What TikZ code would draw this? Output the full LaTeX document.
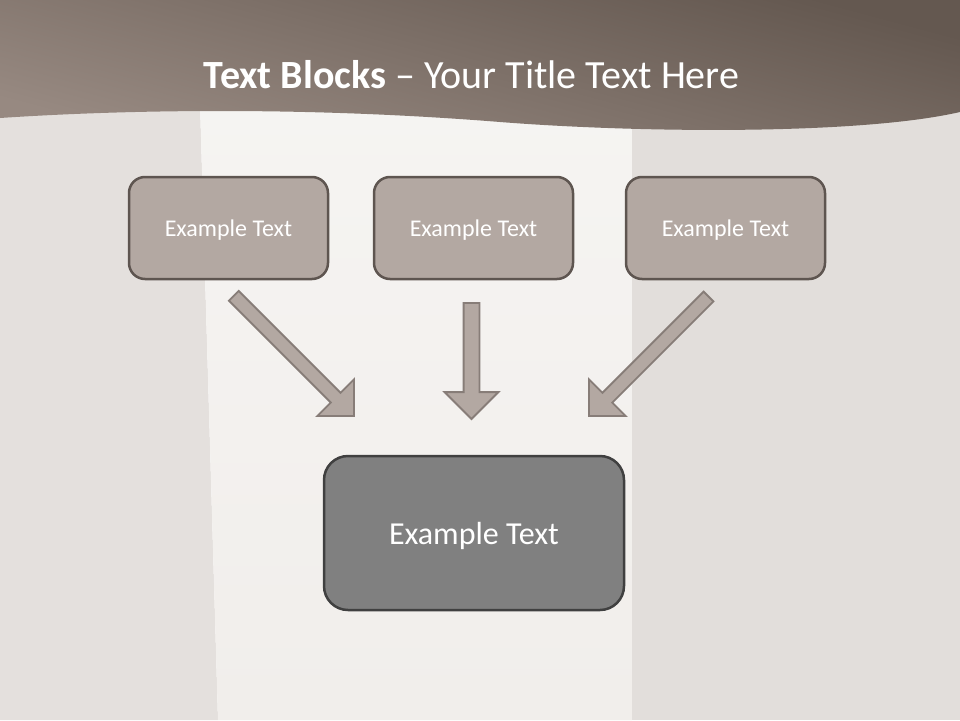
\documentclass[tikz,border=0pt]{standalone}
\usepackage{fontspec}
\setmainfont{Carlito}
\usetikzlibrary{shapes.arrows}

\definecolor{hdrtop}{HTML}{645850}
\definecolor{hdrbot}{HTML}{978981}
\definecolor{leftpanel}{HTML}{E4E0DD}
\definecolor{midtop}{HTML}{F6F5F3}
\definecolor{midbot}{HTML}{F1EEEB}
\definecolor{rightpanel}{HTML}{E2DEDB}
\definecolor{boxfill}{HTML}{B3A8A2}
\definecolor{boxline}{HTML}{5E5550}
\definecolor{mainfill}{HTML}{808080}
\definecolor{mainline}{HTML}{404040}
\definecolor{arrowfill}{HTML}{B3A8A2}
\definecolor{arrowline}{HTML}{877D78}

\begin{document}
\begin{tikzpicture}[x=1pt, y=-1pt,
    block/.style={draw=boxline, line width=2.5pt, rounded corners=16pt, fill=boxfill, minimum width=199pt, minimum height=102pt, text=white, font=\fontsize{24}{28}\selectfont, text depth=0pt},
    mainblock/.style={block, draw=mainline, fill=mainfill, rounded corners=24pt, minimum width=300pt, minimum height=154pt, font=\fontsize{32}{38}\selectfont},
    blockarrow/.style={single arrow, draw=arrowline, line width=1.8pt, fill=arrowfill, inner sep=0pt, inner ysep=6pt, outer sep=0pt, single arrow head extend=19pt, single arrow tip angle=90, single arrow head indent=0pt, minimum width=50pt, anchor=tip}]
        \useasboundingbox (0,0) rectangle (960,720);

        % background panels
        \fill[leftpanel] (0,0) -- (197,0) -- (218,720) -- (0,720) -- cycle;
        \shade[top color=midtop, bottom color=midbot] (197,0) -- (632,0) -- (632,720) -- (218,720) -- cycle;
        \fill[rightpanel] (632,0) rectangle (960,720);

        % header band
        \shade[top color=hdrtop, bottom color=hdrbot, shading angle=-15] (0,0) -- (960,0) -- (960,112) .. controls (860,135) and (640,133) .. (500,122) .. controls (300,106) and (120,110) .. (0,118) -- cycle;
        \node[text=white, font=\fontsize{40}{48}\selectfont, anchor=base, inner sep=0pt] (title) at (471.5,88) {\textbf{Text Blocks} – Your Title Text Here};

        \node[block] (exL) at (228.5,228) {Example Text};
        \node[block] (exM) at (473.5,228) {Example Text};
        \node[block] (exR) at (725.5,228) {Example Text};

        \node[mainblock] (result) at (474,533) {Example Text};

        \node[blockarrow, minimum height=170pt, rotate=-45] (arrL) at (354,416) {};
        \node[blockarrow, minimum height=116pt, inner ysep=7pt, minimum width=52pt, rotate=-90] (arrM) at (471.5,419) {};
        \node[blockarrow, minimum height=169pt, rotate=-135] (arrR) at (589,416) {};
    \end{tikzpicture}
\end{document}
